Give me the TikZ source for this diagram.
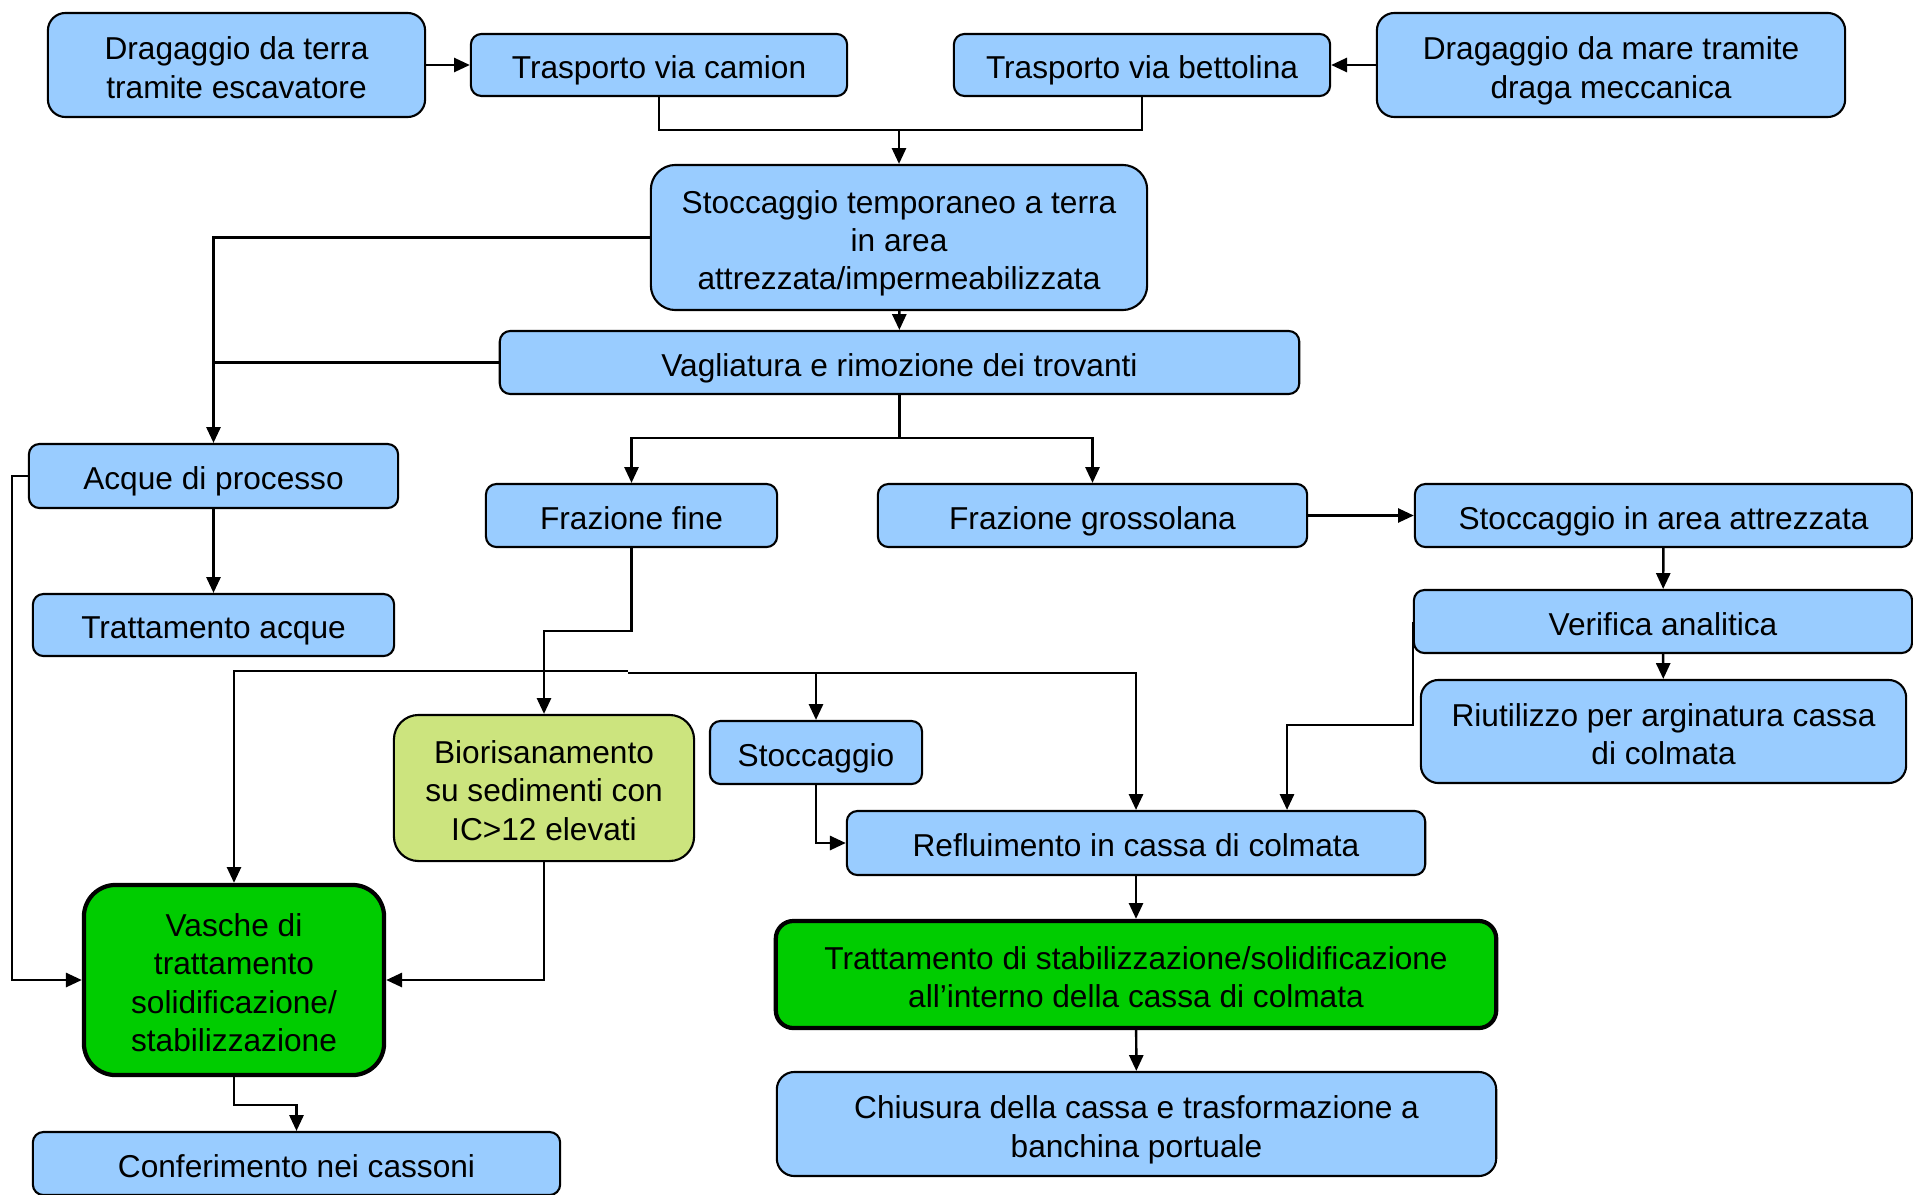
\documentclass[tikz,border=0pt]{standalone}
\usepackage{fontspec}
\setmainfont{Liberation Sans}
\usepackage{tikz}
\usetikzlibrary{arrows.meta, positioning, calc}
\definecolor{SkyFill}{HTML}{99CCFF}
\definecolor{GreenFill}{HTML}{00CC00}
\definecolor{BioFill}{HTML}{CCE47E}
\newcommand{\firstln}{\rule{0pt}{9.8pt}}

\begin{document}
\begin{tikzpicture}[
          x=0.01cm, y=-0.01cm,
          pbox/.style={rectangle, rounded corners=3pt, draw=black, line width=0.6pt,
                        fill=SkyFill, inner sep=2pt, align=center,
                        font=\fontsize{9}{10.9}\selectfont, text=black,
                        execute at begin node={\rule{0pt}{9.8pt}},
                        execute at end node={\rule[-1.9pt]{0pt}{1.9pt}}},
          gbox/.style={pbox, fill=GreenFill, line width=1.2pt},
          bbox/.style={pbox, fill=BioFill},
          conn/.style={line width=0.7pt, color=black},
          arr/.style={conn, -{Triangle[length=4.5pt, width=4pt]}}
        ]
          \useasboundingbox (0,0) rectangle (1913,1194);
          % top row
          \node[pbox, rounded corners=5pt, minimum width=3.77cm, minimum height=1.04cm] (dterra) at (236.5,65) {\firstln Dragaggio da terra\\tramite escavatore};
          \node[pbox, minimum width=3.76cm, minimum height=0.62cm] (camion) at (659,65) {Trasporto via camion};
          \node[pbox, minimum width=3.76cm, minimum height=0.62cm] (bettolina) at (1142,65) {Trasporto via bettolina};
          \node[pbox, rounded corners=5pt, minimum width=4.68cm, minimum height=1.04cm] (dmare) at (1611,65) {\firstln Dragaggio da mare tramite\\draga meccanica};
          % storage and screening
          \node[pbox, rounded corners=7pt, minimum width=4.96cm, minimum height=1.45cm] (stoctemp) at (899,237.5) {\firstln Stoccaggio temporaneo a terra\\in area\\attrezzata/impermeabilizzata};
          \node[pbox, minimum width=7.99cm, minimum height=0.63cm] (vaglia) at (899.5,362.5) {Vagliatura e rimozione dei trovanti};
          % water branch
          \node[pbox, minimum width=3.69cm, minimum height=0.64cm] (acque) at (213.5,476) {Acque di processo};
          \node[pbox, minimum width=3.61cm, minimum height=0.62cm] (trattacque) at (213.5,625) {Trattamento acque};
          % fractions
          \node[pbox, minimum width=2.91cm, minimum height=0.63cm] (fine) at (631.5,515.5) {Frazione fine};
          \node[pbox, minimum width=4.29cm, minimum height=0.63cm] (grossa) at (1092.5,515.5) {Frazione grossolana};
          \node[pbox, minimum width=4.97cm, minimum height=0.63cm] (stocarea) at (1663.5,515.5) {Stoccaggio in area attrezzata};
          \node[pbox, minimum width=4.98cm, minimum height=0.63cm] (verifica) at (1663,621.5) {Verifica analitica};
          \node[pbox, rounded corners=5pt, minimum width=4.85cm, minimum height=1.03cm] (riutilizzo) at (1663.5,731.5) {\firstln Riutilizzo per arginatura cassa\\di colmata};
          % fine fraction treatments
          \node[bbox, rounded corners=7pt, minimum width=3.00cm, minimum height=1.46cm] (bio) at (544,788) {\firstln Biorisanamento\\su sedimenti con\\IC>12 elevati};
          \node[pbox, minimum width=2.12cm, minimum height=0.63cm] (stoc) at (816,752.5) {Stoccaggio};
          \node[pbox, minimum width=5.78cm, minimum height=0.64cm] (reflu) at (1136,843) {Refluimento in cassa di colmata};
          \node[gbox, rounded corners=9pt, minimum width=3.00cm, minimum height=1.90cm] (vasche) at (234,980) {\firstln Vasche di\\trattamento\\solidificazione/\\stabilizzazione};
          \node[gbox, rounded corners=5pt, minimum width=7.20cm, minimum height=1.07cm] (trattstab) at (1136,974.5) {\firstln Trattamento di stabilizzazione/solidificazione\\all’interno della cassa di colmata};
          \node[pbox, rounded corners=5pt, minimum width=7.19cm, minimum height=1.04cm] (chiusura) at (1136.5,1124) {\firstln Chiusura della cassa e trasformazione a\\banchina portuale};
          \node[pbox, minimum width=5.27cm, minimum height=0.63cm] (conf) at (296.5,1163.5) {Conferimento nei cassoni};
          % junctions
          \coordinate (jtop) at (899,130);
          \coordinate (jmid) at (899.5,438);
          \coordinate (jfine) at (544,631);
          \coordinate (hA) at (628,671);
          \coordinate (hB) at (628,673);
          \coordinate (jver) at (1287,725);
          % connectors
          \draw[arr] (dterra) -- (camion);
          \draw[arr] (dmare) -- (bettolina);
          \draw[conn] (camion) |- (jtop) -| (bettolina);
          \draw[arr] (jtop) -- (stoctemp);
          \draw[arr] (stoctemp) -- (vaglia);
          \draw[arr] (stoctemp) -| (acque);
          \draw[conn] (vaglia.west) -- (vaglia.west -| acque);
          \draw[conn] (vaglia) -- (jmid);
          \draw[arr] (jmid) -| (fine); \draw[arr] (jmid) -| (grossa);
          \draw[arr] (grossa) -- (stocarea);
          \draw[arr] (stocarea) -- (verifica);
          \draw[arr] (verifica) -- (riutilizzo);
          \draw[arr] (verifica.west) |- (jver) -- (jver |- reflu.north);
          \draw[arr] (acque) -- (trattacque);
          \draw[arr] (acque.west) -- ++(-16,0) |- (vasche.west);
          \draw[arr] (fine) |- (jfine) -- (bio);
          \draw[arr] (hA) -| (vasche);
          \draw[arr] (hB) -| (reflu);
          \draw[arr] (stoc |- hB) -- (stoc);
          \draw[arr] (stoc) |- (reflu);
          \draw[arr] (bio) |- (vasche);
          \draw[arr] (reflu) -- (trattstab);
          \draw[arr] (trattstab) -- (chiusura);
          \draw[arr] (vasche.south) -- ++(0,28) -| (conf);
        \end{tikzpicture}
\end{document}
